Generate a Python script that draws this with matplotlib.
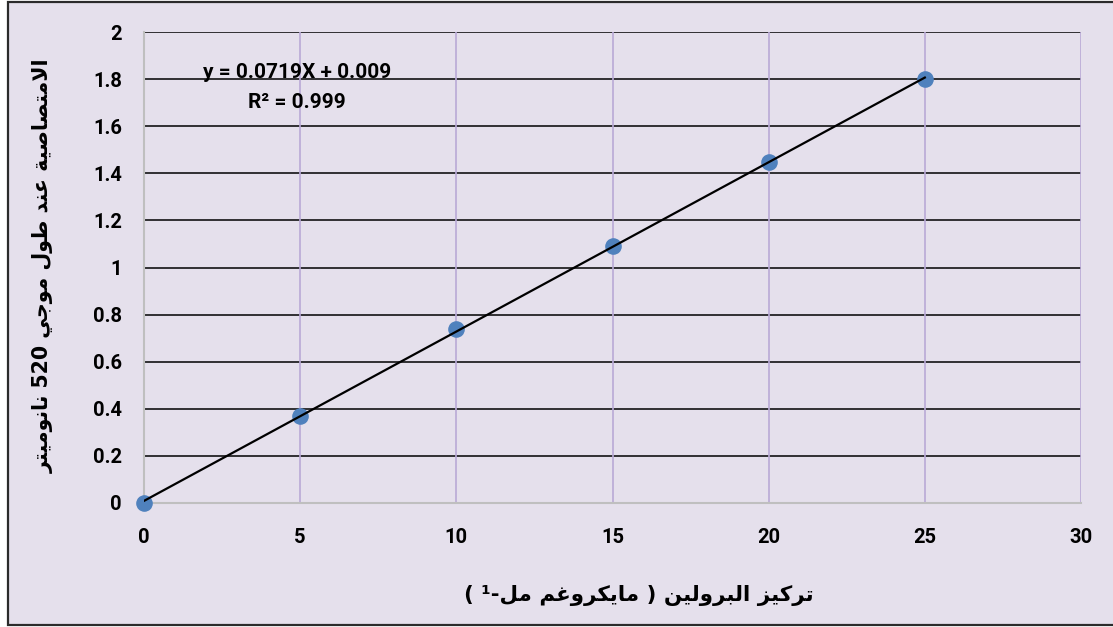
import re
import matplotlib
matplotlib.use("Agg")
import matplotlib.pyplot as plt
from matplotlib.patches import Rectangle

# تركيز البرولين مقابل الامتصاصية
concentration = [0, 5, 10, 15, 20, 25]
absorbance = [0, 0.37, 0.74, 1.09, 1.45, 1.80]
slope, intercept = 0.0719, 0.009
r_squared = 0.999

x_ticks = [0, 5, 10, 15, 20, 25, 30]
y_ticks = [0, 0.2, 0.4, 0.6, 0.8, 1, 1.2, 1.4, 1.6, 1.8, 2]
y_tick_labels = ["0", "0.2", "0.4", "0.6", "0.8", "1", "1.2", "1.4", "1.6", "1.8", "2"]

x_title = "تركيز البرولين ( مايكروغم مل-¹ )"
y_title = "الامتصاصية عند طول موجي 520 نانوميتر"

# matplotlib does no Arabic shaping, so pick the contextual forms by hand
# (isolated, final, initial, medial)
FORMS = {
    "ا": ("\ufe8d", "\ufe8e", None, None),
    "ب": ("\ufe8f", "\ufe90", "\ufe91", "\ufe92"),
    "ة": ("\ufe93", "\ufe94", None, None),
    "ت": ("\ufe95", "\ufe96", "\ufe97", "\ufe98"),
    "ج": ("\ufe9d", "\ufe9e", "\ufe9f", "\ufea0"),
    "د": ("\ufea9", "\ufeaa", None, None),
    "ر": ("\ufead", "\ufeae", None, None),
    "ز": ("\ufeaf", "\ufeb0", None, None),
    "ص": ("\ufeb9", "\ufeba", "\ufebb", "\ufebc"),
    "ط": ("\ufec1", "\ufec2", "\ufec3", "\ufec4"),
    "ع": ("\ufec9", "\ufeca", "\ufecb", "\ufecc"),
    "غ": ("\ufecd", "\ufece", "\ufecf", "\ufed0"),
    "ك": ("\ufed9", "\ufeda", "\ufedb", "\ufedc"),
    "ل": ("\ufedd", "\ufede", "\ufedf", "\ufee0"),
    "م": ("\ufee1", "\ufee2", "\ufee3", "\ufee4"),
    "ن": ("\ufee5", "\ufee6", "\ufee7", "\ufee8"),
    "و": ("\ufeed", "\ufeee", None, None),
    "ي": ("\ufef1", "\ufef2", "\ufef3", "\ufef4"),
}


def joins_next(c):
    return c in FORMS and FORMS[c][2] is not None


def shape(s):
    out = []
    i = 0
    while i < len(s):
        c = s[i]
        if c not in FORMS:
            out.append(c)
            i += 1
            continue
        link_prev = i > 0 and joins_next(s[i - 1])
        if c == "ل" and i + 1 < len(s) and s[i + 1] == "ا":
            out.append("\ufefc" if link_prev else "\ufefb")
            i += 2
            continue
        link_next = joins_next(c) and i + 1 < len(s) and s[i + 1] in FORMS
        iso, fin, ini, med = FORMS[c]
        if link_prev and link_next:
            out.append(med)
        elif link_prev:
            out.append(fin)
        elif link_next:
            out.append(ini)
        else:
            out.append(iso)
        i += 1
    return "".join(out)


def rtl(s):
    r = shape(s)[::-1]
    r = re.sub(r"[0-9]+", lambda m: m.group(0)[::-1], r)
    return r.translate(str.maketrans("()", ")("))


W, H = 1113, 627
fig = plt.figure(figsize=(W / 100, H / 100), dpi=100, facecolor="white")
bg = "#e5e0ec"
fig.patches.append(Rectangle((8 / W, 2 / H), 1.2, (H - 4) / H, transform=fig.transFigure,
                             facecolor=bg, edgecolor="#2b2b2b", linewidth=1.6, zorder=-10))

ax = fig.add_axes([144 / W, 1 - 503 / H, (1081 - 144) / W, (503 - 32) / H])
ax.set_facecolor(bg)
ax.set_xlim(0, 30)
ax.set_ylim(0, 2)

for y in y_ticks[1:]:
    ax.axhline(y, color="black", lw=1.1, zorder=1)
for x in x_ticks[1:]:
    ax.axvline(x, color="#b9a9d6", lw=1.2, zorder=1)

for side in ["top", "right"]:
    ax.spines[side].set_visible(False)
for side in ["left", "bottom"]:
    ax.spines[side].set_color("#bfbfbf")
    ax.spines[side].set_linewidth(1.5)

tick_font = dict(family="Roboto", weight="bold", size=14.5)
ax.set_xticks(x_ticks)
ax.set_xticklabels([str(v) for v in x_ticks], **tick_font)
ax.set_yticks(y_ticks)
ax.set_yticklabels(y_tick_labels, **tick_font)
ax.tick_params(axis="x", length=0, pad=18)
ax.tick_params(axis="y", length=0, pad=16)

ax.scatter(concentration, absorbance, s=120, color="#4f81bd", zorder=3, clip_on=False)
fit_x = [concentration[0], concentration[-1]]
fit_y = [slope * v + intercept for v in fit_x]
ax.plot(fit_x, fit_y, color="black", lw=1.6, zorder=4)

eq_font = dict(family="Roboto", weight="bold", size=15, ha="center", va="center")
ax.text(4.9, 1.83, f"y = {slope}X + {intercept}", **eq_font)
ax.text(4.9, 1.70, f"R² = {r_squared}", **eq_font)

fig.text(639 / W, 1 - 596 / H, rtl(x_title), family="DejaVu Sans", weight="bold",
         size=15.4, ha="center", va="center")
fig.text(43 / W, 1 - 266 / H, rtl(y_title), family="DejaVu Sans", weight="bold",
         size=14.8, ha="center", va="center", rotation=90)

fig.savefig("out.png", dpi=100, facecolor="white")
